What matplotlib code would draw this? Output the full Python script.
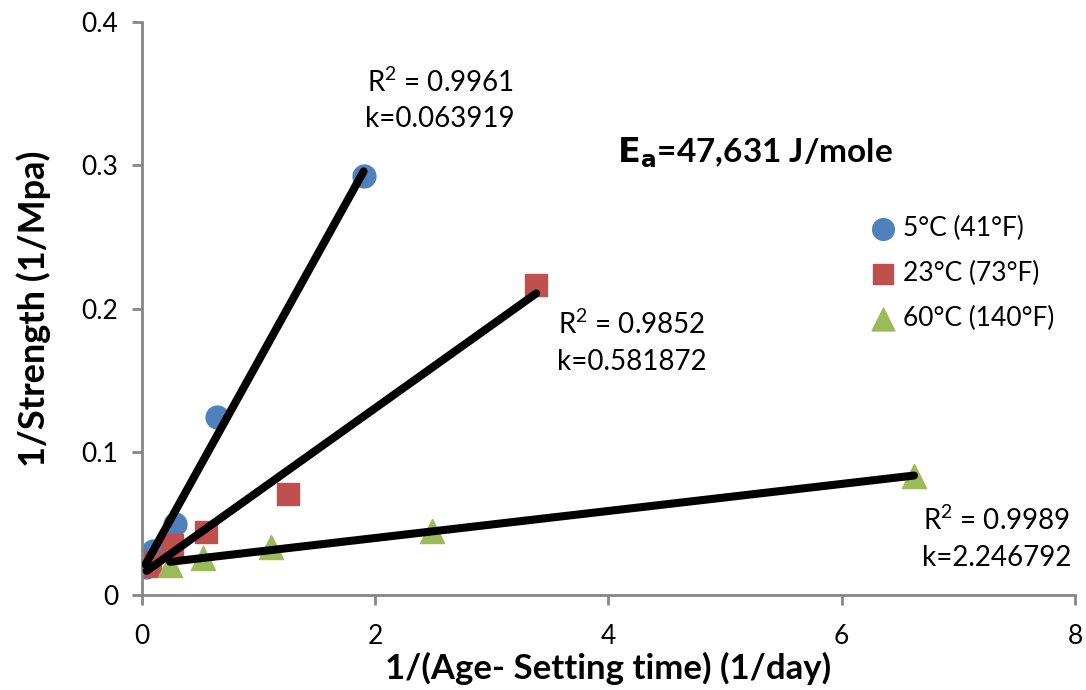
import numpy as np
import matplotlib.pyplot as plt

plt.rcParams['font.family'] = ['Lato', 'DejaVu Sans']

# 1/(age - setting time) vs 1/strength for three curing temperatures
x_5c = [0.03, 0.095, 0.28, 0.64, 1.90]
y_5c = [0.0195, 0.031, 0.0496, 0.124, 0.2926]

x_23c = [0.04, 0.07, 0.26, 0.55, 1.25, 3.38]
y_23c = [0.020, 0.023, 0.035, 0.044, 0.0705, 0.2165]

x_60c = [0.24, 0.52, 1.11, 2.49, 6.62]
y_60c = [0.021, 0.026, 0.0335, 0.0447, 0.083]

labels = ['5°C (41°F)', '23°C (73°F)', '60°C (140°F)']
r2_text = ['0.9961', '0.9852', '0.9989']
k_text = ['0.063919', '0.581872', '2.246792']

blue = '#4F81BD'
red = '#C0504D'
green = '#9BBB59'

fig = plt.figure(figsize=(10.86, 6.9), dpi=100)
ax = fig.add_axes([0.1308, 0.1377, 0.859, 0.8303])

ax.scatter(x_5c, y_5c, s=270, marker='o', color=blue, label=labels[0], zorder=2)
ax.scatter(x_23c, y_23c, s=230, marker='s', color=red, label=labels[1], zorder=2)
ax.scatter(x_60c, y_60c, s=300, marker='^', color=green, label=labels[2], zorder=2)

# linear trendlines
for xs, ys in [(x_5c, y_5c), (x_23c, y_23c), (x_60c, y_60c)]:
    xs = np.array(xs)
    m, b = np.polyfit(xs, ys, 1)
    xx = np.array([xs.min(), xs.max()])
    ax.plot(xx, m * xx + b, color='black', lw=5.8, solid_capstyle='round', zorder=3)

ax.set_xlim(0, 8)
ax.set_ylim(0, 0.4)
ax.set_xticks([0, 2, 4, 6, 8])
ax.set_yticks([0, 0.1, 0.2, 0.3, 0.4])
ax.set_yticklabels(['0', '0.1', '0.2', '0.3', '0.4'])

for s in ['top', 'right']:
    ax.spines[s].set_visible(False)
for s in ['left', 'bottom']:
    ax.spines[s].set_color('#868686')
    ax.spines[s].set_linewidth(2)
ax.tick_params(direction='out', length=7, width=2, color='#868686',
               labelsize=19, pad=10)
ax.tick_params(axis='x', pad=14)

ax.set_xlabel('1/(Age- Setting time) (1/day)', fontsize=25, fontweight='bold', labelpad=2)
ax.set_ylabel('1/Strength (1/Mpa)', fontsize=26, fontweight='bold', labelpad=22)

# trendline annotations
ann_pos = [(2.556, 0.358), (4.20, 0.189), (7.33, 0.052)]
for (tx, ty), r2, k in zip(ann_pos, r2_text, k_text):
    ax.text(tx, ty, '$\\mathregular{R^2}$ = ' + r2, fontsize=20, ha='center', va='center')
    ax.text(tx, ty - 0.026, 'k=' + k, fontsize=20, ha='center', va='center')

ax.text(4.07, 0.309, '$\\mathbf{E_a}$=47,631 J/mole', fontsize=24, fontweight='bold',
        ha='left', va='center')

ax.legend(loc='upper left', bbox_to_anchor=(0.78, 0.662), frameon=False, fontsize=19,
          handlelength=1.0, handletextpad=0.25, labelspacing=0.75, markerscale=0.95,
          borderaxespad=0, borderpad=0)

fig.savefig('out.png', dpi=100)
